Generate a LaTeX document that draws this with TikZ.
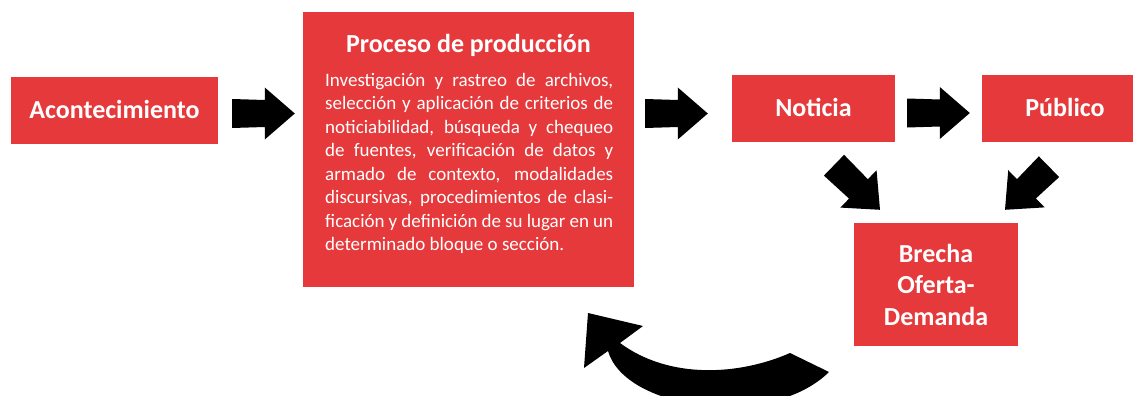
\documentclass[tikz,border=0pt]{standalone}
\usepackage{fontspec}
\setmainfont{Carlito}
\usetikzlibrary{calc}
\definecolor{boxred}{RGB}{229,57,59}
\newcommand\blockarrow[2]{%
  \fill let \p1=($(#2)-(#1)$), \n1={atan2(\y1,\x1)} in
    ($(#1)+(\n1+90:14.5pt)$) -- ($(#2)!30pt!(#1)+(\n1+90:13.5pt)$)
    -- ($(#2)!30pt!(#1)+(\n1+90:26pt)$) -- (#2)
    -- ($(#2)!30pt!(#1)+(\n1-90:26pt)$) -- ($(#2)!30pt!(#1)+(\n1-90:13.5pt)$)
    -- ($(#1)+(\n1-90:14.5pt)$) -- cycle;}
\begin{document}
\begin{tikzpicture}[x=1pt,y=-1pt,
  box/.style={fill=boxred, draw=none, inner sep=0pt, text=white,
    font=\bfseries\fontsize{26}{30}\selectfont, text height=16.5pt, text depth=0pt},
  wtext/.style={inner sep=0pt, text=white, anchor=base}]
\useasboundingbox (0,0) rectangle (1133,396);
\node[box, minimum width=207pt, minimum height=67pt] (acon) at (114.5,110.5) {Acontecimiento};
\node[box, minimum width=331pt, minimum height=275pt] (proc) at (468.5,149.5) {};
\node[wtext, font=\bfseries\fontsize{26}{30}\selectfont] (proct) at (468.5,53) {Proceso de producción};
\node[wtext, anchor=base west] (procb) at (325,86) {\parbox[t]{288pt}{\fontsize{19}{23.57}\selectfont
\makebox[288pt][s]{Investigación y rastreo de archivos,}\\
\makebox[288pt][s]{selección y aplicación de criterios de}\\
\makebox[288pt][s]{noticiabilidad, búsqueda y chequeo}\\
\makebox[288pt][s]{de fuentes, verificación de datos y}\\
\makebox[288pt][s]{armado de contexto, modalidades}\\
\makebox[288pt][s]{discursivas, procedimientos de clasi-}\\
\makebox[288pt][s]{ficación y definición de su lugar en un}\\
determinado bloque o sección.}};
\node[box, minimum width=163pt, minimum height=67pt] (noti) at (813.5,108.5) {Noticia};
\node[box, minimum width=166pt, minimum height=67pt] (publ) at (1065,108.5) {Público};
\node[box, minimum width=164pt, minimum height=123pt] (brecha) at (936,284.5) {};
\node[wtext] (brechat) at (936,262) {\parbox[t]{160pt}{\centering\bfseries\fontsize{26}{31.7}\selectfont Brecha\\Oferta-\\Demanda}};
% block arrows
\coordinate (a1s) at ($(acon.east)+(14,3)$);
\coordinate (a1e) at ($(proc.west|-a1s)+(-8,0)$);
\coordinate (a2s) at ($(proc.east|-a1s)+(11,0)$);
\coordinate (a2e) at ($(noti.west|-a1s)+(-24,0)$);
\coordinate (a3s) at ($(noti.east)+(12,4.5)$);
\coordinate (a3e) at ($(publ.west|-a3s)+(-12,0)$);
\coordinate (a4s) at ($(noti.south)+(20.5,23)$);
\coordinate (a4e) at ($(brecha.north)+(-56,-13)$);
\coordinate (a5s) at ($(publ.south)+(-16,24.5)$);
\coordinate (a5e) at ($(brecha.north)+(69,-13)$);
\blockarrow{a1s}{a1e}
\blockarrow{a2s}{a2e}
\blockarrow{a3s}{a3e}
\blockarrow{a4s}{a4e}
\blockarrow{a5s}{a5e}
% curved return arrow
\coordinate (cs1) at (790,353);
\coordinate (cs2) at (829,372);
\coordinate (ctip) at (588,313);
\fill (cs1) .. controls (740,375) and (670,380) .. (620,343) -- (643,326) -- (ctip)
  -- (584,368) -- (608,351) .. controls (625,410) and (770,430) .. (cs2) -- cycle;
\end{tikzpicture}
\end{document}
